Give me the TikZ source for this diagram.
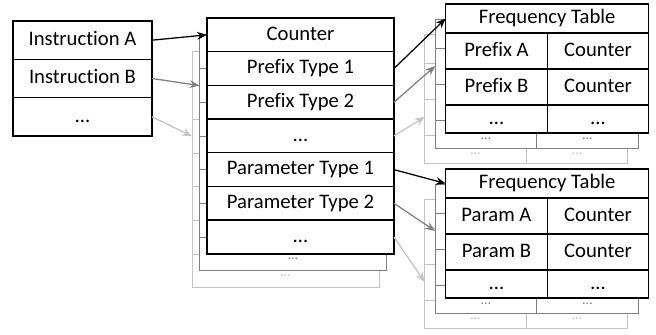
\documentclass[tikz,border=0pt]{standalone}
\usepackage{fontspec}
\setmainfont{Carlito}[Ligatures=NoCommon]
\usetikzlibrary{positioning, arrows.meta}
\definecolor{midgray}{HTML}{808080}
\definecolor{palegray}{HTML}{C4C4C4}
\tikzstyle{cell} = [rectangle, draw=black, fill=white, line width=1pt, inner sep=0pt, outer sep=0pt, text centered, text height=0.75em, text depth=0pt, font=\fontsize{14.7}{17}\selectfont]
\tikzstyle{instcell} = [cell, minimum width=3.475cm, minimum height=0.9575cm]
\tikzstyle{typecell} = [cell, minimum width=4.675cm, minimum height=0.8425cm]
\tikzstyle{headcell} = [cell, minimum width=5.075cm, minimum height=0.725cm]
\tikzstyle{entrycell} = [cell, minimum width=2.5375cm, minimum height=0.9cm]
\tikzstyle{lastcell} = [cell, minimum width=2.5375cm, minimum height=0.7cm]
\tikzstyle{layerB} = [draw=midgray, text=midgray, line width=0.7pt, font=\fontsize{10}{12}\selectfont]
\tikzstyle{layerC} = [draw=palegray, text=palegray, line width=0.7pt, font=\fontsize{10}{12}\selectfont]
\tikzstyle{arrow} = [line width=0.9pt, ->, >={Stealth[length=7pt, width=5.5pt]}]

\begin{document}
\begin{tikzpicture}

\useasboundingbox (0,0) rectangle (16.4,-8.375);

% instructions
\node (instA) [instcell] at (2.0625,-1.005) {Instruction A};
\node (instB) [instcell, below=0pt of instA] {Instruction B};
\node (instDots) [instcell, below=0pt of instB] {…};

% copies of the type table behind
\foreach \l/\dx/\dy/\lay in {3/-0.375/-0.85/layerC, 2/-0.1875/-0.425/layerB}{
  \begin{scope}[shift={(\dx,\dy)}]
    \node (m\l r0) [typecell, \lay] at (7.5125,-0.871) {};
    \foreach \r/\p in {1/0, 2/1, 3/2, 4/3, 5/4}
      \node (m\l r\r) [typecell, \lay, below=0pt of m\l r\p] {};
    \node (m\l r6) [typecell, \lay, below=0pt of m\l r5] {…};
  \end{scope}
}

% type table
\node (cnt) [typecell] at (7.5125,-0.871) {Counter};
\node (pre1) [typecell, below=0pt of cnt] {Prefix Type 1};
\node (pre2) [typecell, below=0pt of pre1] {Prefix Type 2};
\node (preDots) [typecell, below=0pt of pre2] {…};
\node (par1) [typecell, below=0pt of preDots] {Parameter Type 1};
\node (par2) [typecell, below=0pt of par1] {Parameter Type 2};
\node (parDots) [typecell, below=0pt of par2] {…};

% copies of the frequency tables behind
\foreach \t/\y in {p/-0.4625, q/-4.5875}{
  \foreach \l/\dx/\dy/\lay in {3/-0.525/-0.75/layerC, 2/-0.2625/-0.375/layerB}{
    \begin{scope}[shift={(\dx,\dy)}]
      \node (\t\l h) [headcell, \lay] at (13.68,\y) {};
      \node (\t\l a) [entrycell, \lay, below right=0pt and 0pt of \t\l h.south west] {};
      \node (\t\l ac) [entrycell, \lay, right=0pt of \t\l a] {};
      \node (\t\l b) [entrycell, \lay, below=0pt of \t\l a] {};
      \node (\t\l bc) [entrycell, \lay, right=0pt of \t\l b] {};
      \node (\t\l c) [lastcell, \lay, below=0pt of \t\l b] {…};
      \node (\t\l cc) [lastcell, \lay, right=0pt of \t\l c] {…};
    \end{scope}
  }
}

% prefix frequency table
\node (ftPre) [headcell] at (13.68,-0.4625) {Frequency Table};
\node (preA) [entrycell, below right=0pt and 0pt of ftPre.south west] {Prefix A};
\node (preAcnt) [entrycell, right=0pt of preA] {Counter};
\node (preB) [entrycell, below=0pt of preA] {Prefix B};
\node (preBcnt) [entrycell, right=0pt of preB] {Counter};
\node (preC) [lastcell, below=0pt of preB] {…};
\node (preCcnt) [lastcell, right=0pt of preC] {…};

% parameter frequency table
\node (ftPar) [headcell] at (13.68,-4.5875) {Frequency Table};
\node (parA) [entrycell, below right=0pt and 0pt of ftPar.south west] {Param A};
\node (parAcnt) [entrycell, right=0pt of parA] {Counter};
\node (parB) [entrycell, below=0pt of parA] {Param B};
\node (parBcnt) [entrycell, right=0pt of parB] {Counter};
\node (parC) [lastcell, below=0pt of parB] {…};
\node (parCcnt) [lastcell, right=0pt of parC] {…};

\draw [arrow] (instA.east) -- (cnt.west);
\draw [arrow, midgray] (instB.east) -- (m2r1.west);
\draw [arrow, palegray] (instDots.east) -- (m3r2.west);

\draw [arrow] (pre1.east) -- (ftPre.west);
\draw [arrow, midgray] (pre2.east) -- (p2a.west);
\draw [arrow, palegray] (preDots.east) -- (p3b.west);

\draw [arrow] (par1.east) -- (ftPar.west);
\draw [arrow, midgray] (par2.east) -- (q2a.west);
\draw [arrow, palegray] (parDots.east) -- (q3b.west);

\end{tikzpicture}
\end{document}
